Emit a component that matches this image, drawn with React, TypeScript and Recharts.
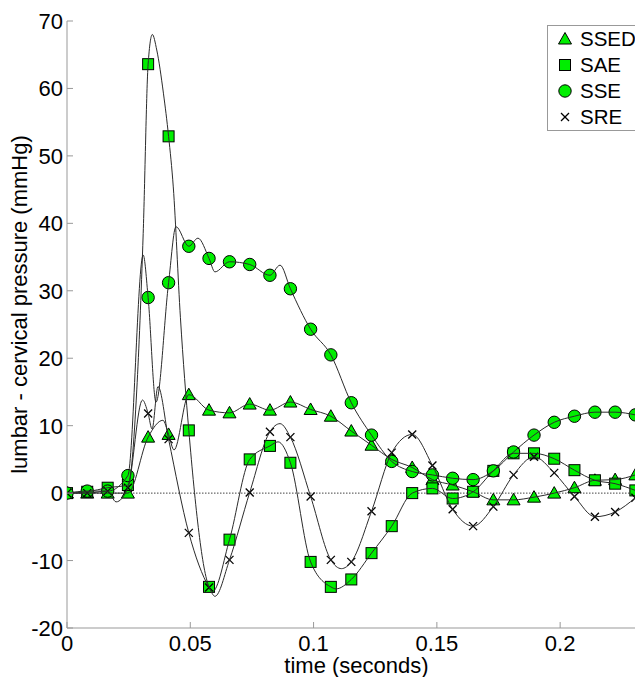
// Pressure difference (lumbar - cervical) over time for four test conditions
import { ComposedChart, Legend, Line, ReferenceLine, Scatter, XAxis, YAxis } from "recharts";

// Sample times of the markers (seconds)
const TIME = [
  0, 0.0082, 0.0165, 0.0247, 0.0329, 0.0412, 0.0494, 0.0576, 0.0659, 0.0741, 0.0823, 0.0906, 0.0988, 0.107,
  0.1153, 0.1235, 0.1317, 0.14, 0.1482, 0.1564, 0.1647, 0.1729, 0.1811, 0.1894, 0.1976, 0.2058, 0.2141, 0.2223,
  0.2305,
];

// Marker values for each series (mmHg)
const SSED = [
  0, 0, 0, 0, 8.3, 8.7, 14.6, 12.3, 11.9, 13.2, 12.3, 13.5, 12.4, 11.4, 9.2, 7.1, 5.0, 3.8, 2.0, 1.2, 0.2, -1.0,
  -1.0, -0.6, 0, 0.8, 1.9, 2.0, 2.7,
];
const SAE = [
  0, 0.2, 0.8, 1.2, 63.6, 52.9, 9.3, -13.9, -6.9, 5.0, 7.0, 4.5, -10.2, -13.9, -12.8, -8.9, -4.9, 0, 0.7, -0.8, 0.2,
  3.3, 5.9, 5.9, 5.1, 3.4, 1.9, 1.4, 0.4,
];
const SSE = [
  0, 0.3, 0.3, 2.6, 29.0, 31.2, 36.6, 34.8, 34.3, 33.9, 32.3, 30.3, 24.3, 20.5, 13.4, 8.6, 4.7, 3.2, 2.7, 2.2, 2.0,
  3.3, 6.1, 8.6, 10.5, 11.4, 12.0, 12.0, 11.6,
];
const SRE = [
  0, 0, 0.3, 0.8, 11.8, 8.0, -5.9, -14.0, -9.9, 0.1, 9.1, 8.3, -0.5, -9.9, -10.2, -2.7, 6.0, 8.7, 4.1, -2.4, -4.9,
  -2.0, 2.7, 5.4, 3.0, -0.5, -3.5, -2.8, -0.7,
];

// Extra points of the continuous curves between markers [time, value]
const SSED_EXTRA = [
  [0.0389, 10.8],
  [0.0434, 6.4],
];
const SAE_EXTRA = [
  [0.0283, 15.3],
  [0.0309, 38.5],
  [0.0346, 68.0],
  [0.0364, 65.7],
  [0.0391, 59.3],
  [0.0431, 45.4],
  [0.046, 26.0],
  [0.059, -14.6],
  [0.0856, 7.6],
  [0.1091, -14.2],
];
const SSE_EXTRA = [
  [0.0309, 35.3],
  [0.0361, 13.5],
  [0.0442, 39.5],
  [0.0531, 37.8],
  [0.06, 32.8],
  [0.0864, 33.8],
];
const SRE_EXTRA = [
  [0.0199, -1.3],
  [0.0306, 13.8],
  [0.0345, 9.5],
  [0.0369, 15.8],
  [0.06, -15.3],
  [0.0864, 10.3],
  [0.1113, -11.2],
];

const X_TICKS = [0, 0.05, 0.1, 0.15, 0.2];
const Y_TICKS = [-20, -10, 0, 10, 20, 30, 40, 50, 60, 70];
const X_MAX = 0.2336;

const GREEN = "#00ee00";
const AXIS = "#999";
const FONT = "'Liberation Sans', Arial, sans-serif";

type Pt = { t: number; v: number };

const markers = (vals: number[]): Pt[] => TIME.map((t, i) => ({ t, v: vals[i] }));
const curve = (vals: number[], extra: number[][]): Pt[] =>
  [...markers(vals), ...extra.map(([t, v]) => ({ t, v }))].sort((a, b) => a.t - b.t);

// marker shapes
const Tri = ({ cx, cy }: any) => (
  <polygon
    points={`${cx},${cy - 6.5} ${cx - 6.5},${cy + 5} ${cx + 6.5},${cy + 5}`}
    fill={GREEN}
    stroke="#000"
    strokeWidth={1}
  />
);
const Sq = ({ cx, cy }: any) => (
  <rect x={cx - 5.5} y={cy - 5.5} width={11} height={11} fill={GREEN} stroke="#000" strokeWidth={1} />
);
const Circ = ({ cx, cy }: any) => <circle cx={cx} cy={cy} r={6.2} fill={GREEN} stroke="#000" strokeWidth={1} />;
const Cross = ({ cx, cy }: any) => (
  <g stroke="#000" strokeWidth={1.3}>
    <line x1={cx - 4} y1={cy - 4} x2={cx + 4} y2={cy + 4} />
    <line x1={cx - 4} y1={cy + 4} x2={cx + 4} y2={cy - 4} />
  </g>
);

const SERIES = [
  { name: "SSED", values: SSED, extra: SSED_EXTRA, Shape: Tri },
  { name: "SAE", values: SAE, extra: SAE_EXTRA, Shape: Sq },
  { name: "SSE", values: SSE, extra: SSE_EXTRA, Shape: Circ },
  { name: "SRE", values: SRE, extra: SRE_EXTRA, Shape: Cross },
];

// ticks drawn inward, like the original plot box
const XTick = ({ x, y, payload, top }: any) => (
  <g>
    <line x1={x} x2={x} y1={y} y2={top ? y + 6 : y - 6} stroke={AXIS} />
    {!top && (
      <text x={x} y={y + 23} textAnchor="middle" fontSize={22} fontFamily={FONT} fill="#000">
        {String(payload.value)}
      </text>
    )}
  </g>
);

const YTick = ({ x, y, payload, right }: any) => (
  <g>
    <line x1={x} x2={right ? x - 6 : x + 6} y1={y} y2={y} stroke={AXIS} />
    {!right && (
      <text x={x - 4} y={y + 8} textAnchor="end" fontSize={22} fontFamily={FONT} fill="#000">
        {String(payload.value)}
      </text>
    )}
  </g>
);

const XTitle = ({ viewBox }: any) => (
  <text
    x={viewBox.x + viewBox.width / 2 + 1.5}
    y={viewBox.y + 45}
    textAnchor="middle"
    fontSize={22}
    fontFamily={FONT}
    fill="#000"
  >
    time (seconds)
  </text>
);

const YTitle = ({ viewBox }: any) => {
  const cx = viewBox.x + 11;
  const cy = viewBox.y + viewBox.height / 2 - 20;
  return (
    <text
      x={cx}
      y={cy}
      transform={`rotate(-90 ${cx} ${cy})`}
      textAnchor="middle"
      dominantBaseline="central"
      fontSize={22}
      fontFamily={FONT}
      fill="#000"
    >
      lumbar - cervical pressure (mmHg)
    </text>
  );
};

const LegendBox = () => (
  <div
    style={{
      width: 96,
      height: 106,
      boxSizing: "border-box",
      border: `1px solid ${AXIS}`,
      background: "#fff",
      fontFamily: FONT,
      fontSize: 20.5,
      color: "#000",
    }}
  >
    {SERIES.map(({ name, Shape }) => (
      <div key={name} style={{ display: "flex", alignItems: "center", height: 26 }}>
        <svg width={32} height={26} style={{ flex: "none" }}>
          <Shape cx={17} cy={13} />
        </svg>
        <span style={{ lineHeight: "26px", whiteSpace: "nowrap" }}>{name}</span>
      </div>
    ))}
  </div>
);

export default function App() {
  return (
    <div style={{ width: 635, height: 669, position: "relative" }}>
      <ComposedChart width={635} height={669} margin={{ top: 13, right: 0, bottom: 0, left: 0 }}>
        <XAxis
          dataKey="t"
          type="number"
          domain={[0, X_MAX]}
          ticks={X_TICKS}
          allowDataOverflow
          stroke={AXIS}
          tickLine={false}
          tickSize={0}
          tickMargin={0}
          tick={<XTick />}
          height={49}
          label={<XTitle />}
        />
        <XAxis
          xAxisId="top"
          orientation="top"
          dataKey="t"
          type="number"
          domain={[0, X_MAX]}
          ticks={X_TICKS}
          allowDataOverflow
          stroke={AXIS}
          tickLine={false}
          tickSize={0}
          tickMargin={0}
          tick={<XTick top />}
          height={0}
        />
        <YAxis
          type="number"
          domain={[-20, 70]}
          ticks={Y_TICKS}
          allowDataOverflow
          stroke={AXIS}
          tickLine={false}
          tickSize={0}
          tickMargin={0}
          tick={<YTick />}
          width={59}
          label={<YTitle />}
        />
        <YAxis
          yAxisId="right"
          orientation="right"
          type="number"
          domain={[-20, 70]}
          ticks={Y_TICKS}
          allowDataOverflow
          stroke={AXIS}
          tickLine={false}
          tickSize={0}
          tickMargin={0}
          tick={<YTick right />}
          width={0}
        />
        <ReferenceLine y={0} stroke="#444" strokeDasharray="1.5 1.5" strokeWidth={1} />
        {SERIES.map(({ name, values, Shape }) => (
          <Scatter
            key={name + "-m"}
            name={name}
            data={markers(values)}
            dataKey="v"
            shape={(p: any) => <Shape cx={p.cx} cy={p.cy} />}
            isAnimationActive={false}
            legendType="none"
            zIndex={500}
          />
        ))}
        {SERIES.map(({ name, values, extra }) => (
          <Line
            key={name + "-l"}
            data={curve(values, extra)}
            dataKey="v"
            type="monotone"
            stroke="#2b2b2b"
            strokeWidth={1}
            dot={false}
            activeDot={false}
            isAnimationActive={false}
            legendType="none"
            zIndex={700}
          />
        ))}
        <Legend
          layout="vertical"
          align="center"
          verticalAlign="middle"
          content={<LegendBox />}
          wrapperStyle={{ left: 539, top: 17, width: 96, height: 106 }}
        />
      </ComposedChart>
    </div>
  );
}
